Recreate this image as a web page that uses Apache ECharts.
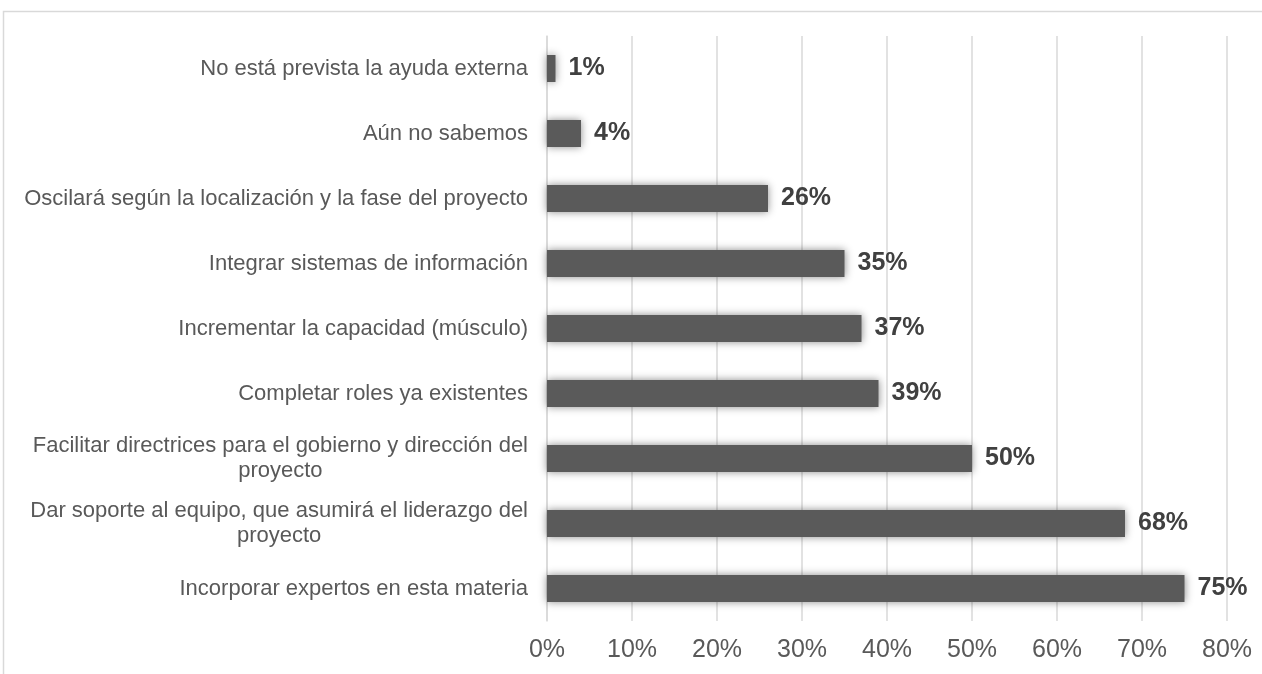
<!DOCTYPE html>
<html>
<head>
<meta charset="utf-8">
<script src="https://cdn.jsdelivr.net/npm/echarts@6/dist/echarts.min.js"></script>
<style>
html,body{margin:0;padding:0;background:#fff;}
#chart{width:1262px;height:674px;}
</style>
</head>
<body>
<div id="chart"></div>
<script>
const categories = [
  "No está prevista la ayuda externa",
  "Aún no sabemos",
  "Oscilará según la localización y la fase del proyecto",
  "Integrar sistemas de información",
  "Incrementar la capacidad (músculo)",
  "Completar roles ya existentes",
  "Facilitar directrices para el gobierno y dirección del\nproyecto",
  "Dar soporte al equipo, que asumirá el liderazgo del\nproyecto",
  "Incorporar expertos en esta materia"
];
const values = [1, 4, 26, 35, 37, 39, 50, 68, 75];
const xTicks = [0, 10, 20, 30, 40, 50, 60, 70, 80];

const FONT = "'Liberation Sans', Arial, sans-serif";
const chart = echarts.init(document.getElementById('chart'));
chart.setOption({
  animation: false,
  backgroundColor: '#ffffff',
  graphic: [{
    type: 'rect',
    shape: {x: 3.5, y: 11.5, width: 1400, height: 800},
    style: {fill: 'none', stroke: '#d9d9d9', lineWidth: 1.5},
    silent: true
  }],
  grid: {left: 547, right: 35, top: 36, bottom: 53},
  xAxis: {
    type: 'value',
    min: xTicks[0],
    max: xTicks[xTicks.length - 1],
    interval: 10,
    axisLine: {show: false},
    axisTick: {show: false},
    splitLine: {show: true, lineStyle: {color: '#d9d9d9', width: 1.5}},
    axisLabel: {
      formatter: v => v + '%',
      color: '#595959',
      fontSize: 25,
      fontFamily: FONT,
      margin: 17
    }
  },
  yAxis: {
    type: 'category',
    data: categories,
    inverse: true,
    axisLine: {show: true, lineStyle: {color: '#d9d9d9', width: 1.5}},
    axisTick: {show: false},
    axisLabel: {
      color: '#595959',
      fontSize: 22,
      fontFamily: FONT,
      margin: 19,
      lineHeight: 25,
      formatter: function (v) {
        if (v.indexOf('\n') < 0) return v;
        return v.split('\n').map(l => '{c|' + l + '}').join('\n');
      },
      rich: {
        c: {align: 'center', color: '#595959', fontSize: 22, fontFamily: FONT, lineHeight: 25}
      }
    }
  },
  series: [{
    type: 'bar',
    data: values,
    barWidth: 27,
    itemStyle: {
      color: '#5a5a5a',
      shadowBlur: 8,
      shadowColor: 'rgba(0,0,0,0.45)'
    },
    label: {
      show: true,
      position: 'right',
      distance: 13,
      formatter: p => p.value + '%',
      color: '#404040',
      fontWeight: 'bold',
      fontSize: 25,
      fontFamily: FONT
    }
  }]
});
</script>
</body>
</html>
